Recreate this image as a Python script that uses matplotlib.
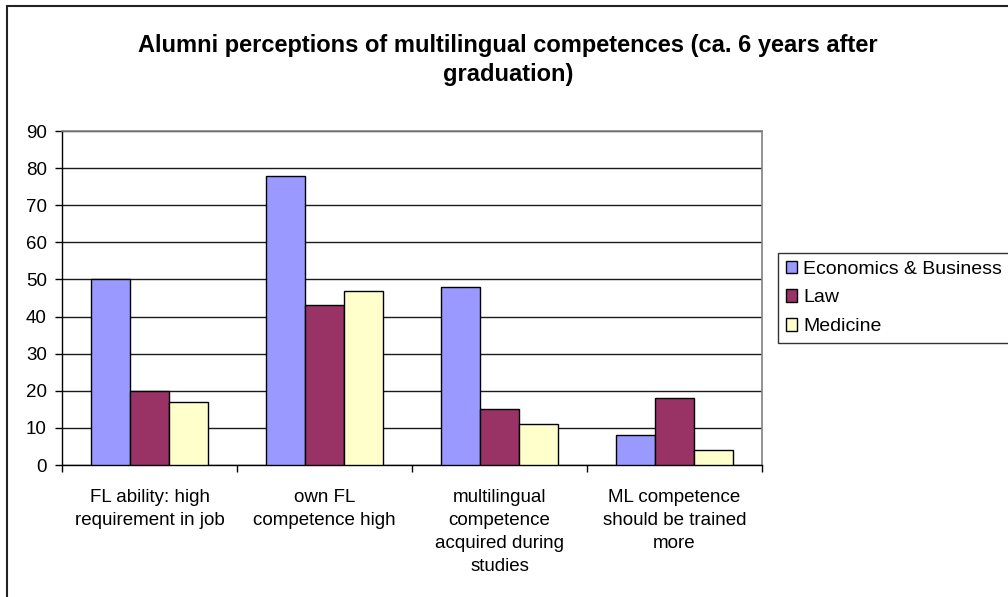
import matplotlib
matplotlib.use("Agg")
import matplotlib.pyplot as plt
import numpy as np
from matplotlib.patches import Rectangle

plt.rcParams['font.family'] = ['Liberation Sans', 'DejaVu Sans']

categories = [
    "FL ability: high\nrequirement in job",
    "own FL\ncompetence high",
    "multilingual\ncompetence\nacquired during\nstudies",
    "ML competence\nshould be trained\nmore",
]
series_names = ["Economics & Business", "Law", "Medicine"]
economics = [50, 78, 48, 8]
law = [20, 43, 15, 18]
medicine = [17, 47, 11, 4]
colors = ["#9999FF", "#993366", "#FFFFCC"]
yticks = list(range(0, 100, 10))

W, H = 1008, 597
fig = plt.figure(figsize=(W / 100, H / 100), dpi=100)
fig.patch.set_facecolor("white")

# outer chart frame
fig.add_artist(Rectangle((7 / W, -0.05), 1.1, (H - 6) / H + 0.05,
                         transform=fig.transFigure, fill=False,
                         edgecolor="#222222", linewidth=1.5))

ax = fig.add_axes([62 / W, (H - 465) / H, 700 / W, 334 / H])

x = np.arange(len(categories))
bw = 0.223
for i, (vals, name, c) in enumerate(zip([economics, law, medicine], series_names, colors)):
    ax.bar(x + (i - 1) * bw, vals, width=bw, color=c, edgecolor="black",
           linewidth=1.0, label=name, zorder=3)

ax.set_xlim(-0.5, len(categories) - 0.5)
ax.set_ylim(0, 90)
ax.set_yticks(yticks)
ax.set_yticklabels([str(v) for v in yticks], fontsize=13.5)
ax.yaxis.grid(True, color="#1a1a1a", linewidth=1.0, zorder=0)
ax.set_axisbelow(True)

# category boundary ticks on the x axis, labels centred under groups
ax.set_xticks(np.arange(-0.5, len(categories), 1.0))
ax.set_xticklabels([])
ax.set_xticks(x, minor=True)
ax.set_xticklabels(categories, minor=True, fontsize=13.5, linespacing=1.47,
                   va="top")
ax.tick_params(axis="x", which="minor", length=0, pad=17)
ax.tick_params(axis="x", which="major", length=5, width=1, direction="out")
ax.tick_params(axis="y", length=5, width=1, direction="out", pad=6)

for s in ["top", "right"]:
    ax.spines[s].set_color("#808080")
    ax.spines[s].set_linewidth(1.2)
for s in ["left", "bottom"]:
    ax.spines[s].set_color("black")
    ax.spines[s].set_linewidth(1.0)

fig.text(508 / W, 1 - 60 / H,
         "Alumni perceptions of multilingual competences (ca. 6 years after\ngraduation)",
         ha="center", va="center", fontsize=17, fontweight="bold",
         linespacing=1.35)

leg = fig.legend(loc="upper left", bbox_to_anchor=(778 / W, 1 - 253 / H),
                 fontsize=14, frameon=True, fancybox=False, borderaxespad=0,
                 handlelength=0.6, handleheight=0.6, handletextpad=0.3,
                 labelspacing=0.6, borderpad=0.4)
leg.get_frame().set_edgecolor("black")
leg.get_frame().set_linewidth(1.0)

fig.savefig("out.png", dpi=100, facecolor="white")
